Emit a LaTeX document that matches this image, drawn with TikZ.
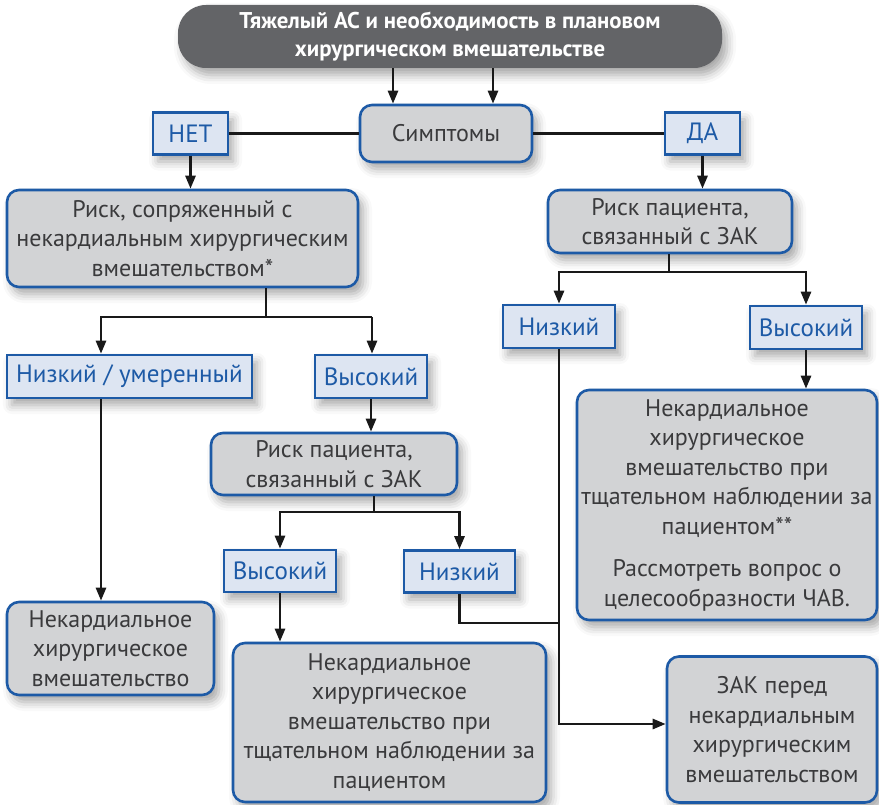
\documentclass[tikz,border=0pt]{standalone}
\usepackage{fontspec}
\setmainfont{PT Sans}
\usetikzlibrary{arrows.meta,shadows.blur}
\definecolor{bblue}{HTML}{1D5AA6}
\definecolor{gfill}{HTML}{D2D3D5}
\definecolor{lblue}{HTML}{DDE5F2}
\definecolor{tgray}{HTML}{3A3A3C}
\definecolor{dgray}{HTML}{636467}
\begin{document}
\begin{tikzpicture}[x=1pt,y=-1pt,
  shd/.style={blur shadow={shadow xshift=5pt, shadow yshift=-7pt, shadow blur radius=9pt, shadow opacity=35}},
  gbox/.style={shd, draw=bblue, line width=2.6pt, fill=gfill, rounded corners=12pt, align=center,
    text=tgray, font=\fontsize{24}{29.5}\selectfont, inner sep=0pt},
  lbox/.style={shd, draw=bblue, line width=2.6pt, fill=lblue, text=bblue, align=center,
    font=\fontsize{25}{28}\selectfont, inner sep=0pt},
  arr/.style={line width=2.6pt, draw=black!90, -{Triangle[length=13pt,width=10pt]}},
  ln/.style={line width=2.6pt, draw=black!90}]
\useasboundingbox (0,0) rectangle (879,805);

% top
\node[shd, fill=dgray, rounded corners=28pt, minimum width=544pt, minimum height=63pt, inner sep=0pt,
  text=white, align=center, font=\bfseries\fontsize{22.8}{28}\selectfont] (top) at (450,36.5)
  {Тяжелый АС и необходимость в плановом\\хирургическом вмешательстве};

\node[gbox, minimum width=172pt, minimum height=57pt] (sym) at (446,133.5) {Симптомы};
\node[lbox, minimum width=75pt, minimum height=42pt] (net) at (190.5,133.5) {НЕТ};
\node[lbox, minimum width=75pt, minimum height=42pt] (da) at (702.5,133.5) {ДА};

\node[gbox, minimum width=351pt, minimum height=97pt] (risk1) at (182.5,238.5)
  {Риск, сопряженный с\\некардиальным хирургическим\\вмешательством*};
\node[gbox, minimum width=244pt, minimum height=63pt] (risk2) at (670,221.5)
  {Риск пациента,\\связанный с ЗАК};

\node[lbox, minimum width=112pt, minimum height=43pt] (low2) at (559,326.5) {Низкий};
\node[lbox, minimum width=112pt, minimum height=43pt] (high2) at (806,327.5) {Высокий};

\node[lbox, minimum width=245pt, minimum height=43pt] (lowmod) at (129.5,376.5) {Низкий / умеренный};
\node[lbox, minimum width=112pt, minimum height=43pt] (high1) at (371,376.5) {Высокий};

\node[gbox, minimum width=246pt, minimum height=62pt] (risk3) at (334,464)
  {Риск пациента,\\связанный с ЗАК};

\node[lbox, minimum width=112pt, minimum height=42pt] (high3) at (280,571) {Высокий};
\node[lbox, minimum width=111pt, minimum height=42pt] (low3) at (459.5,571.5) {Низкий};

\node[gbox, minimum width=300pt, minimum height=230pt] (out3) at (727,505)
  {Некардиальное\\хирургическое\\вмешательство при\\тщательном наблюдении за\\пациентом**\\[13pt]Рассмотреть вопрос о\\целесообразности ЧАВ.};

\node[gbox, minimum width=207pt, minimum height=93pt] (out1) at (110.5,648.5)
  {Некардиальное\\хирургическое\\вмешательство};
\node[gbox, minimum width=313pt, minimum height=159pt] (out2) at (389.5,722.5)
  {Некардиальное\\хирургическое\\вмешательство при\\тщательном наблюдении за\\пациентом};
\node[gbox, minimum width=210pt, minimum height=146pt] (out4) at (772,729.5)
  {ЗАК перед\\некардиальным\\хирургическим\\вмешательством};

% helper coordinates
\coordinate (a1) at (393,0);
\coordinate (a2) at (493,0);
\coordinate (j1) at (266,317);
\coordinate (jl1) at (101,317);
\coordinate (jr1) at (372,317);
\coordinate (j2) at (669,272);
\coordinate (j3) at (374,512);
\coordinate (m1) at (559,623);
\coordinate (e4) at (0,724);

% connectors
\draw[arr] (top.south -| a1) -- (sym.north -| a1);
\draw[arr] (top.south -| a2) -- (sym.north -| a2);
\draw[ln] (net) -- (sym);
\draw[ln] (sym) -- (da);
\draw[arr] (net.south) -- (net.south |- risk1.north);
\draw[arr] (da.south) -- (da.south |- risk2.north);

\draw[ln] (risk1.south -| j1) -- (j1);
\draw[arr] (jr1) -- (jl1) -- (jl1 |- lowmod.north);
\draw[arr] (jl1 -| jr1) -- (jr1 |- high1.north);
\draw[arr] (high1.south) -- (high1.south |- risk3.north);

\draw[ln] (risk2.south -| j2) -- (j2);
\draw[arr] (j2) -| (low2.north);
\draw[arr] (j2) -| (high2.north);
\draw[arr] (high2.south) -- (high2.south |- out3.north);

\draw[ln] (risk3.south -| j3) -- (j3);
\draw[arr] (j3) -| (high3.north);
\draw[arr] (j3) -| (low3.north);

\draw[arr] (lowmod.south -| jl1) -- (out1.north -| jl1);
\draw[arr] (high3.south) -- (high3.south |- out2.north);
\draw[ln] (low3.south) |- (m1);
\draw[arr] (low2.south) |- (out4.west |- e4);
\end{tikzpicture}
\end{document}
